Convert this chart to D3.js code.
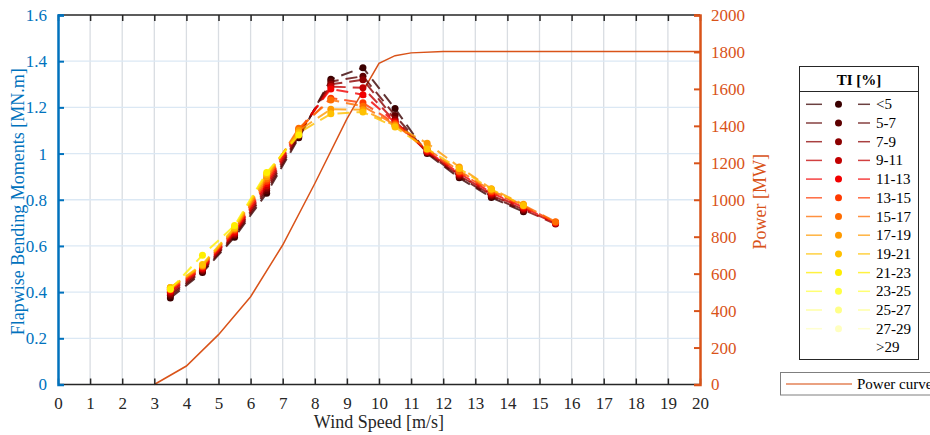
<!DOCTYPE html>
<html>
<head>
<meta charset="utf-8">
<script src="https://cdn.jsdelivr.net/npm/d3@7"></script>
<style>
  body { margin: 0; background: #fff; }
  svg { display: block; }
  svg text { font-family: "Liberation Serif", "Times New Roman", serif; }
</style>
</head>
<body>
<div id="chart"></div>
<script>
// Wind speed bin centres (m/s)
const windBins = [3.5, 4.5, 5.5, 6.5, 7.5, 8.5, 9.5, 10.5, 11.5, 12.5, 13.5, 14.5, 15.5];

// Turbulence intensity classes
const tiLabels = ["<5", "5-7", "7-9", "9-11", "11-13", "13-15", "15-17", "17-19",
  "19-21", "21-23", "23-25", "25-27", "27-29", ">29"];
const tiColors = ["#3a0000", "#5e0000", "#8c0000", "#c20000", "#f20000", "#ff3a00",
  "#ff6c00", "#ff9a00", "#ffc000", "#ffee00", "#ffff44", "#ffff88", "#ffffc0", "#ffffff"];

// Flapwise bending moments [MN.m] per TI class (null = no data)
const moments = [
  [0.375, 0.485, 0.638, 0.828, 1.068, 1.322, 1.372, 1.195, 1.000, 0.895, 0.810, 0.748, null],
  [0.385, 0.490, 0.645, 0.840, 1.075, 1.312, 1.335, 1.165, 1.005, 0.900, 0.815, 0.752, null],
  [0.392, 0.495, 0.650, 0.850, 1.082, 1.300, 1.320, 1.148, 1.005, 0.905, 0.820, 0.757, 0.695],
  [0.400, 0.500, 0.655, 0.860, 1.090, 1.290, 1.285, 1.140, 1.010, 0.910, 0.825, 0.762, 0.698],
  [0.405, 0.505, 0.660, 0.870, 1.100, 1.280, 1.255, 1.135, 1.010, 0.915, 0.830, 0.767, 0.700],
  [0.410, 0.510, 0.668, 0.880, 1.105, 1.240, 1.220, 1.130, 1.015, 0.920, 0.835, 0.772, 0.703],
  [0.415, 0.513, 0.672, 0.890, 1.110, 1.232, 1.205, 1.125, 1.020, 0.925, 0.840, 0.776, 0.705],
  [0.420, 0.515, 0.676, 0.900, 1.100, 1.192, 1.190, 1.120, 1.045, 0.942, 0.848, 0.780, null],
  [0.420, 0.520, 0.680, 0.910, 1.090, 1.172, 1.180, 1.115, 1.020, 0.935, 0.845, 0.775, null],
  [0.412, 0.560, 0.688, 0.918, 1.080, null, null, null, null, null, null, null, null],
  [], [], [], []
];

// Power curve
const powerWind = [3, 4, 5, 6, 7, 8, 9, 10, 10.5, 11, 12, 13, 14, 15, 16, 17, 18, 19, 20];
const powerMW = [0, 100, 270, 475, 755, 1088, 1438, 1738, 1780, 1795, 1803, 1803, 1803, 1803, 1803, 1803, 1803, 1803, 1803];

const xTicks = d3.range(0, 21, 1);
const yLeftTicks = [0, 0.2, 0.4, 0.6, 0.8, 1, 1.2, 1.4, 1.6];
const yRightTicks = [0, 200, 400, 600, 800, 1000, 1200, 1400, 1600, 1800, 2000];

const W = 930, H = 435;
const plot = { left: 58, right: 700, top: 15, bottom: 384.5 };
const blue = "#0072BD", orange = "#D95319";
const serif = "Liberation Serif, Times New Roman, serif";

const svg = d3.select("#chart").append("svg").attr("width", W).attr("height", H);

const x = d3.scaleLinear().domain([0, 20]).range([plot.left, plot.right]);
const yL = d3.scaleLinear().domain([0, 1.6]).range([plot.bottom, plot.top]);
const yR = d3.scaleLinear().domain([0, 2000]).range([plot.bottom, plot.top]);

// grid
svg.append("g").selectAll("line").data(xTicks.slice(1, -1)).join("line")
  .attr("x1", d => x(d)).attr("x2", d => x(d))
  .attr("y1", plot.top).attr("y2", plot.bottom)
  .attr("stroke", "#d9dde2").attr("stroke-width", 1.3);
svg.append("g").selectAll("line").data(yLeftTicks.slice(1, -1)).join("line")
  .attr("x1", plot.left).attr("x2", plot.right)
  .attr("y1", d => yL(d)).attr("y2", d => yL(d))
  .attr("stroke", "#dbe8f4").attr("stroke-width", 1.3);

// power curve (right axis)
const powerLine = d3.line().x((d, i) => x(powerWind[i])).y(d => yR(d));
svg.append("path").datum(powerMW).attr("d", powerLine)
  .attr("fill", "none").attr("stroke", orange).attr("stroke-width", 1.5);

// moment series
const mLine = d3.line().defined(d => d != null).x((d, i) => x(windBins[i])).y(d => yL(d));
moments.forEach((vals, s) => {
  if (!vals.length) return;
  svg.append("path").datum(vals).attr("d", mLine)
    .attr("fill", "none").attr("stroke", tiColors[s]).attr("stroke-width", 2)
    .attr("stroke-dasharray", "12,7").attr("stroke-opacity", 0.8);
  svg.append("g").selectAll("circle")
    .data(vals.map((v, i) => [windBins[i], v]).filter(d => d[1] != null))
    .join("circle")
    .attr("cx", d => x(d[0])).attr("cy", d => yL(d[1])).attr("r", 3.5)
    .attr("fill", tiColors[s]);
});

// axes frame
const axG = svg.append("g");
axG.append("line").attr("x1", plot.left).attr("x2", plot.right).attr("y1", plot.bottom).attr("y2", plot.bottom)
  .attr("stroke", "#262626").attr("stroke-width", 1.5);
axG.append("line").attr("x1", plot.left).attr("x2", plot.right).attr("y1", plot.top).attr("y2", plot.top)
  .attr("stroke", "#262626").attr("stroke-width", 1.5);

function styleTicks(g, color) {
  g.attr("font-family", serif).attr("font-size", 17);
  g.selectAll("text").attr("fill", color);
}

// x ticks (bottom and top, inward)
const gxb = svg.append("g").attr("transform", `translate(0,${plot.bottom})`)
  .call(d3.axisBottom(x).tickValues(xTicks).tickSize(-6).tickPadding(12).tickFormat(d3.format("d")));
gxb.select(".domain").remove();
gxb.selectAll("line").attr("stroke", "#262626").attr("stroke-width", 1.5);
styleTicks(gxb, "#262626");

const gxt = svg.append("g").attr("transform", `translate(0,${plot.top})`)
  .call(d3.axisTop(x).tickValues(xTicks).tickSize(-6).tickFormat(""));
gxt.select(".domain").remove();
gxt.selectAll("line").attr("stroke", "#262626").attr("stroke-width", 1.5);

// left axis
const gyl = svg.append("g").attr("transform", `translate(${plot.left},0)`)
  .call(d3.axisLeft(yL).tickValues(yLeftTicks).tickSize(-6).tickPadding(11).tickFormat(d => String(+d.toFixed(1))));
gyl.select(".domain").attr("stroke", blue).attr("stroke-width", 2.5);
gyl.selectAll("line").attr("stroke", blue).attr("stroke-width", 2);
styleTicks(gyl, blue);

// right axis
const gyr = svg.append("g").attr("transform", `translate(${plot.right},0)`)
  .call(d3.axisRight(yR).tickValues(yRightTicks).tickSize(-6).tickPadding(11).tickFormat(d3.format("d")));
gyr.select(".domain").attr("stroke", orange).attr("stroke-width", 2.5);
gyr.selectAll("line").attr("stroke", orange).attr("stroke-width", 2);
styleTicks(gyr, orange);

// axis labels
svg.append("text").attr("x", (plot.left + plot.right) / 2).attr("y", 428)
  .attr("text-anchor", "middle").attr("fill", "#262626").attr("font-size", 18)
  .text("Wind Speed [m/s]");
svg.append("text").attr("transform", `translate(24,${(plot.top + plot.bottom) / 2 + 2}) rotate(-90)`)
  .attr("text-anchor", "middle").attr("fill", blue).attr("font-size", 18)
  .text("Flapwise Bending Moments [MN.m]");
svg.append("text").attr("transform", `translate(766,${(plot.top + plot.bottom) / 2 + 2}) rotate(-90)`)
  .attr("text-anchor", "middle").attr("fill", orange).attr("font-size", 18)
  .text("Power [MW]");

// TI legend
const lg = svg.append("g");
lg.append("rect").attr("x", 799.5).attr("y", 66.5).attr("width", 119).attr("height", 293)
  .attr("fill", "#fff").attr("stroke", "#262626").attr("stroke-width", 1);
lg.append("line").attr("x1", 799.5).attr("x2", 918.5).attr("y1", 91.5).attr("y2", 91.5)
  .attr("stroke", "#262626").attr("stroke-width", 1);
lg.append("text").attr("x", 859).attr("y", 85).attr("text-anchor", "middle")
  .attr("font-size", 15).attr("font-weight", "bold").attr("fill", "#000").text("TI [%]");
const rows = lg.selectAll(".row").data(tiLabels).join("g").attr("class", "row")
  .attr("transform", (d, i) => `translate(0,${104.3 + i * 18.7})`);
const shown = rows.filter((d, i) => i < 13);
shown.append("line").attr("x1", 806).attr("x2", 822).attr("y1", 0).attr("y2", 0)
  .attr("stroke", d => tiColors[tiLabels.indexOf(d)]).attr("stroke-width", 1.5).attr("stroke-opacity", 0.75);
shown.append("line").attr("x1", 858).attr("x2", 870).attr("y1", 0).attr("y2", 0)
  .attr("stroke", d => tiColors[tiLabels.indexOf(d)]).attr("stroke-width", 1.5).attr("stroke-opacity", 0.75);
shown.append("circle").attr("cx", 838.5).attr("cy", 0).attr("r", 3.5)
  .attr("fill", d => tiColors[tiLabels.indexOf(d)]);
rows.append("text").attr("x", 876).attr("y", 5).attr("font-size", 15).attr("fill", "#000").text(d => d);

// power legend
const pg = svg.append("g");
pg.append("rect").attr("x", 780.5).attr("y", 372.5).attr("width", 160).attr("height", 22.5)
  .attr("fill", "#fff").attr("stroke", "#7f7f7f").attr("stroke-width", 1);
pg.append("line").attr("x1", 786).attr("x2", 852).attr("y1", 384).attr("y2", 384)
  .attr("stroke", orange).attr("stroke-width", 2).attr("stroke-opacity", 0.55);
pg.append("text").attr("x", 857).attr("y", 389).attr("font-size", 15).attr("fill", "#000").text("Power curve");
</script>
</body>
</html>
